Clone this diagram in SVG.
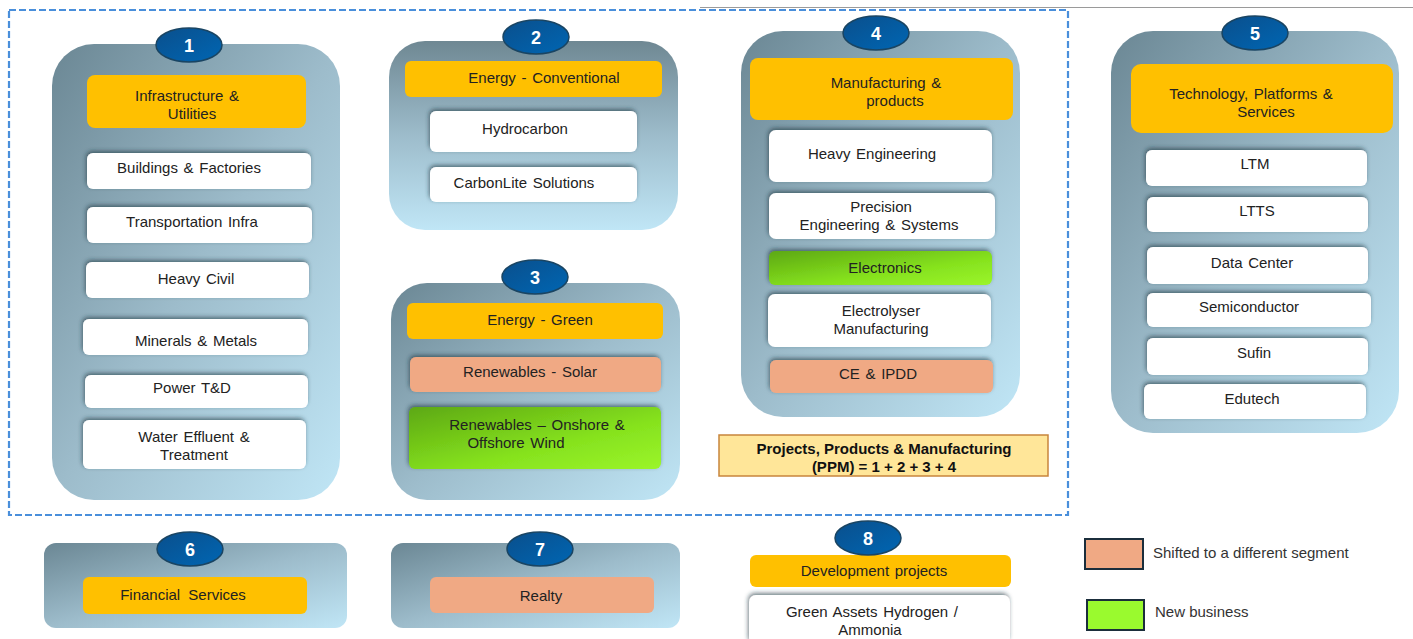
<svg xmlns="http://www.w3.org/2000/svg" width="1413" height="639" viewBox="0 0 1413 639">
<defs>
<linearGradient id="pg" x1="0" y1="0" x2="1" y2="1">
<stop offset="0" stop-color="#6b8794"/>
<stop offset="0.5" stop-color="#9dbccb"/>
<stop offset="1" stop-color="#c0e6f6"/>
</linearGradient>
<linearGradient id="pgv" x1="0" y1="0" x2="0" y2="1">
<stop offset="0" stop-color="#6f8893"/>
<stop offset="0.5" stop-color="#9dbccb"/>
<stop offset="1" stop-color="#c0e6f6"/>
</linearGradient>
<linearGradient id="gg" x1="0" y1="0" x2="1" y2="1">
<stop offset="0" stop-color="#5da812"/>
<stop offset="0.6" stop-color="#86e21e"/>
<stop offset="1" stop-color="#9bf52a"/>
</linearGradient>
<linearGradient id="bg" x1="0" y1="0" x2="1" y2="1">
<stop offset="0" stop-color="#0a4f8c"/>
<stop offset="1" stop-color="#0066b3"/>
</linearGradient>
<filter id="sh" x="-10%" y="-30%" width="120%" height="160%">
<feDropShadow dx="-1" dy="-2" stdDeviation="2" flood-color="#23343e" flood-opacity="0.6"/>
</filter>
</defs>
<style>
text{font-family:"Liberation Sans",Arial,sans-serif;font-size:15px;fill:#222;text-anchor:middle;word-spacing:1.5px}
.panel{fill:url(#pg)}
.hdr{fill:#ffc000}
.wb{fill:#ffffff;filter:url(#sh)}
.sal{fill:#f0a984}
.grn{fill:url(#gg)}
.badge{fill:url(#bg);stroke:#1a4563;stroke-width:1.5}
.num{fill:#ffffff;font-weight:bold;font-size:18px}
.ppm{font-weight:bold;font-size:15px;fill:#111;word-spacing:0}
.leg{text-anchor:start;fill:#333;word-spacing:0}
</style>
<rect width="1413" height="639" fill="#ffffff"/>
<line x1="700" y1="7.5" x2="1413" y2="7.5" stroke="#9a9a9a" stroke-width="1"/>
<rect x="9" y="10" width="1059" height="505" fill="none" stroke="#4a8fdb" stroke-width="2.2" stroke-dasharray="7 3"/>

<g id="node1">
<rect class="panel" x="52" y="44" width="288" height="456" rx="42"/>
<rect class="hdr" x="87" y="75" width="219" height="53" rx="8"/>
<text x="187" y="101">Infrastructure &amp;</text>
<text x="192" y="119">Utilities</text>
<rect class="wb" x="87" y="153" width="224" height="36" rx="6"/>
<text x="189" y="173">Buildings &amp; Factories</text>
<rect class="wb" x="87" y="207" width="225" height="36" rx="6"/>
<text x="192" y="227">Transportation Infra</text>
<rect class="wb" x="86" y="262" width="223" height="36" rx="6"/>
<text x="196" y="284">Heavy Civil</text>
<rect class="wb" x="83" y="319" width="225" height="36" rx="6"/>
<text x="196" y="346">Minerals &amp; Metals</text>
<rect class="wb" x="85" y="375" width="223" height="33" rx="6"/>
<text x="192" y="393">Power T&amp;D</text>
<rect class="wb" x="83" y="420" width="223" height="49" rx="6"/>
<text x="194" y="442">Water Effluent &amp;</text>
<text x="194" y="460">Treatment</text>
<ellipse class="badge" cx="189" cy="45" rx="33" ry="17"/>
<text class="num" x="189" y="52">1</text>
</g>

<g id="node2">
<rect class="panel" style="fill:url(#pgv)" x="389" y="41" width="289" height="189" rx="36"/>
<rect class="hdr" x="405" y="61" width="257" height="36" rx="6"/>
<text x="544" y="83">Energy - Conventional</text>
<rect class="wb" x="430" y="111" width="207" height="41" rx="6"/>
<text x="525" y="134">Hydrocarbon</text>
<rect class="wb" x="430" y="167" width="207" height="35" rx="6"/>
<text x="524" y="188">CarbonLite Solutions</text>
<ellipse class="badge" cx="536" cy="37" rx="33" ry="17"/>
<text class="num" x="536" y="44">2</text>
</g>

<g id="node3">
<rect class="panel" x="391" y="283" width="289" height="217" rx="36"/>
<rect class="hdr" x="407" y="303" width="256" height="36" rx="6"/>
<text x="540" y="325">Energy - Green</text>
<rect class="wb sal" x="410" y="357" width="251" height="35" rx="6"/>
<text x="530" y="377">Renewables - Solar</text>
<rect class="wb grn" x="409" y="407" width="252" height="62" rx="6"/>
<text x="537" y="430">Renewables – Onshore &amp;</text>
<text x="516" y="448">Offshore Wind</text>
<ellipse class="badge" cx="535" cy="277" rx="33" ry="17"/>
<text class="num" x="535" y="284">3</text>
</g>

<g id="node4">
<rect class="panel" x="741" y="31" width="279" height="386" rx="42"/>
<rect class="hdr" x="750" y="58" width="263" height="62" rx="8"/>
<text x="886" y="88">Manufacturing &amp;</text>
<text x="895" y="106">products</text>
<rect class="wb" x="769" y="130" width="223" height="52" rx="7"/>
<text x="872" y="159">Heavy Engineering</text>
<rect class="wb" x="769" y="193" width="226" height="46" rx="7"/>
<text x="881" y="212">Precision</text>
<text x="879" y="230">Engineering &amp; Systems</text>
<rect class="wb grn" x="769" y="251" width="223" height="34" rx="6"/>
<text x="885" y="273">Electronics</text>
<rect class="wb" x="768" y="294" width="223" height="53" rx="7"/>
<text x="881" y="316">Electrolyser</text>
<text x="881" y="334">Manufacturing</text>
<rect class="wb sal" x="770" y="360" width="223" height="33" rx="6"/>
<text x="878" y="379">CE &amp; IPDD</text>
<ellipse class="badge" cx="876" cy="33" rx="33" ry="17"/>
<text class="num" x="876" y="40">4</text>
</g>

<g id="ppm">
<rect x="719" y="435" width="329" height="41" fill="#ffe699" stroke="#c8853c" stroke-width="1.5"/>
<text class="ppm" x="884" y="454">Projects, Products &amp; Manufacturing</text>
<text class="ppm" x="884" y="472">(PPM) = 1 + 2 + 3 + 4</text>
</g>

<g id="node5">
<rect class="panel" x="1111" y="31" width="288" height="402" rx="42"/>
<rect class="hdr" x="1131" y="64" width="262" height="69" rx="10"/>
<text x="1251" y="99">Technology, Platforms &amp;</text>
<text x="1266" y="117">Services</text>
<rect class="wb" x="1146" y="150" width="221" height="36" rx="6"/>
<text x="1255" y="169">LTM</text>
<rect class="wb" x="1147" y="197" width="221" height="35" rx="6"/>
<text x="1257" y="216">LTTS</text>
<rect class="wb" x="1147" y="247" width="221" height="37" rx="6"/>
<text x="1252" y="268">Data Center</text>
<rect class="wb" x="1147" y="293" width="224" height="34" rx="6"/>
<text x="1249" y="312">Semiconductor</text>
<rect class="wb" x="1147" y="338" width="221" height="37" rx="6"/>
<text x="1254" y="358">Sufin</text>
<rect class="wb" x="1144" y="384" width="222" height="35" rx="6"/>
<text x="1252" y="404">Edutech</text>
<ellipse class="badge" cx="1255" cy="33" rx="33" ry="17"/>
<text class="num" x="1255" y="40">5</text>
</g>

<g id="node6">
<rect class="panel" x="44" y="543" width="303" height="85" rx="12"/>
<rect class="hdr" x="83" y="577" width="224" height="37" rx="6"/>
<text x="183" y="600" style="word-spacing:4px">Financial Services</text>
<ellipse class="badge" cx="190" cy="549" rx="33" ry="17"/>
<text class="num" x="190" y="556">6</text>
</g>

<g id="node7">
<rect class="panel" x="391" y="543" width="289" height="85" rx="12"/>
<rect class="sal" x="430" y="577" width="224" height="36" rx="6"/>
<text x="541" y="601">Realty</text>
<ellipse class="badge" cx="540" cy="549" rx="33" ry="17"/>
<text class="num" x="540" y="556">7</text>
</g>

<g id="node8">
<rect class="hdr" x="750" y="555" width="261" height="32" rx="6"/>
<text x="874" y="576">Development projects</text>
<rect class="wb" x="749" y="595" width="261" height="50" rx="7"/>
<text x="872" y="617">Green Assets Hydrogen /</text>
<text x="870" y="635">Ammonia</text>
<ellipse class="badge" cx="868" cy="538" rx="33" ry="17"/>
<text class="num" x="868" y="545">8</text>
</g>

<g id="legend">
<rect x="1085" y="539" width="58" height="30" fill="#f0a984" stroke="#1b2e3c" stroke-width="2"/>
<text class="leg" x="1153" y="558">Shifted to a different segment</text>
<rect x="1087" y="600" width="57" height="30" fill="#9afa2e" stroke="#1b2e3c" stroke-width="2"/>
<text class="leg" x="1155" y="617">New business</text>
</g>
<g id="connectors"/>
</svg>
